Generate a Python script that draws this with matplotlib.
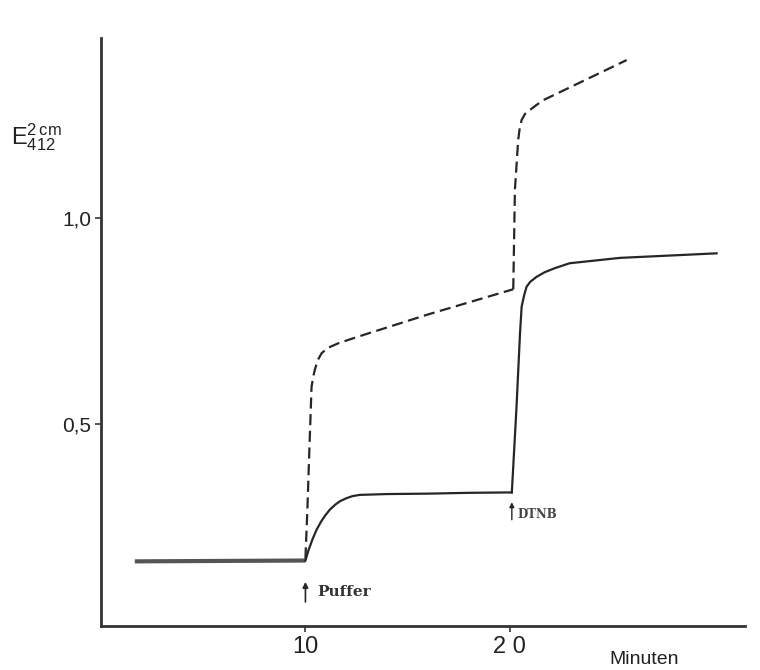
import matplotlib
matplotlib.use("Agg")
import matplotlib.pyplot as plt

# ---- data ----
base_x = [1.65, 9.9, 10.0]
base_y = [0.168, 0.170, 0.170]

solid1_x = [10.0, 10.15, 10.35, 10.54, 10.75, 10.95, 11.19, 11.45, 11.7, 12.01, 12.3, 12.66,
            14.0, 16.0, 18.0, 20.1]
solid1_y = [0.170, 0.195, 0.222, 0.244, 0.263, 0.278, 0.293, 0.305, 0.314, 0.321, 0.326, 0.329,
            0.331, 0.332, 0.334, 0.335]

solid2_x = [20.1, 20.33, 20.5, 20.58, 20.7, 20.82, 21.0, 21.31, 21.7, 22.2, 22.93, 25.4, 28.0, 30.12]
solid2_y = [0.335, 0.543, 0.720, 0.785, 0.812, 0.833, 0.845, 0.857, 0.868, 0.878, 0.890, 0.903,
            0.909, 0.914]

dash1_x = [10.0, 10.1, 10.2, 10.3, 10.38, 10.46, 10.6, 10.79, 11.1, 11.6, 12.2, 12.82, 16.0, 20.17]
dash1_y = [0.175, 0.300, 0.450, 0.591, 0.615, 0.632, 0.655, 0.672, 0.685, 0.696, 0.706, 0.716,
           0.766, 0.827]

dash2_x = [20.17, 20.25, 20.41, 20.48, 20.58, 20.75, 20.98, 21.3, 21.64, 25.72]
dash2_y = [0.827, 1.067, 1.188, 1.215, 1.237, 1.252, 1.261, 1.273, 1.285, 1.382]

xticks = [10, 20]
xticklabels = ["10", "2 0"]
yticks = [0.5, 1.0]
yticklabels = ["0,5", "1,0"]

ink = "#262626"

fig = plt.figure(figsize=(7.6, 6.7), dpi=100)
ax = fig.add_axes([0.133, 0.066, 0.847, 0.877])

ax.plot(base_x, base_y, color="#555555", lw=3.0, solid_capstyle="butt")
ax.plot(solid1_x, solid1_y, color=ink, lw=1.6)
ax.plot(solid2_x, solid2_y, color=ink, lw=1.6)
ax.plot(dash1_x, dash1_y, color=ink, lw=1.6, dashes=(5, 2.5))
ax.plot(dash2_x, dash2_y, color=ink, lw=1.6, dashes=(5, 2.5))

ax.set_xlim(0, 31.5)
ax.set_ylim(0.012, 1.435)
for s in ["top", "right"]:
    ax.spines[s].set_visible(False)
for s in ["left", "bottom"]:
    ax.spines[s].set_linewidth(2.0)
    ax.spines[s].set_color("#333333")

ax.set_xticks(xticks)
ax.set_xticklabels(xticklabels, fontsize=17, family="Liberation Sans", color="#222222")
ax.set_yticks(yticks)
ax.set_yticklabels(yticklabels, fontsize=15, family="Liberation Sans", color="#222222")
ax.tick_params(axis="both", length=4, width=1.2, color="#333333", pad=3)

# annotations
ax.annotate("", xy=(10.0, 0.125), xytext=(10.0, 0.063),
            arrowprops=dict(arrowstyle="-|>", color=ink, lw=1.2, mutation_scale=8))
ax.text(10.6, 0.095, "Puffer", fontsize=11, family="DejaVu Serif", fontweight="bold",
        color="#333333", va="center", ha="left")
ax.annotate("", xy=(20.1, 0.318), xytext=(20.1, 0.262),
            arrowprops=dict(arrowstyle="-|>", color=ink, lw=1.0, mutation_scale=7))
ax.text(20.4, 0.282, "DTNB", fontsize=8.5, family="DejaVu Serif", fontweight="bold",
        color="#444444", va="center", ha="left")

fig.text(0.802, 0.003, "Minuten", fontsize=14, family="Liberation Sans", color="#222222",
         ha="left", va="bottom")
fig.text(0.015, 0.795, r"$\mathregular{E^{2\,cm}_{412}}$", fontsize=17,
         family="Liberation Sans", color="#222222", ha="left", va="center")

fig.savefig("out.png", dpi=100)
